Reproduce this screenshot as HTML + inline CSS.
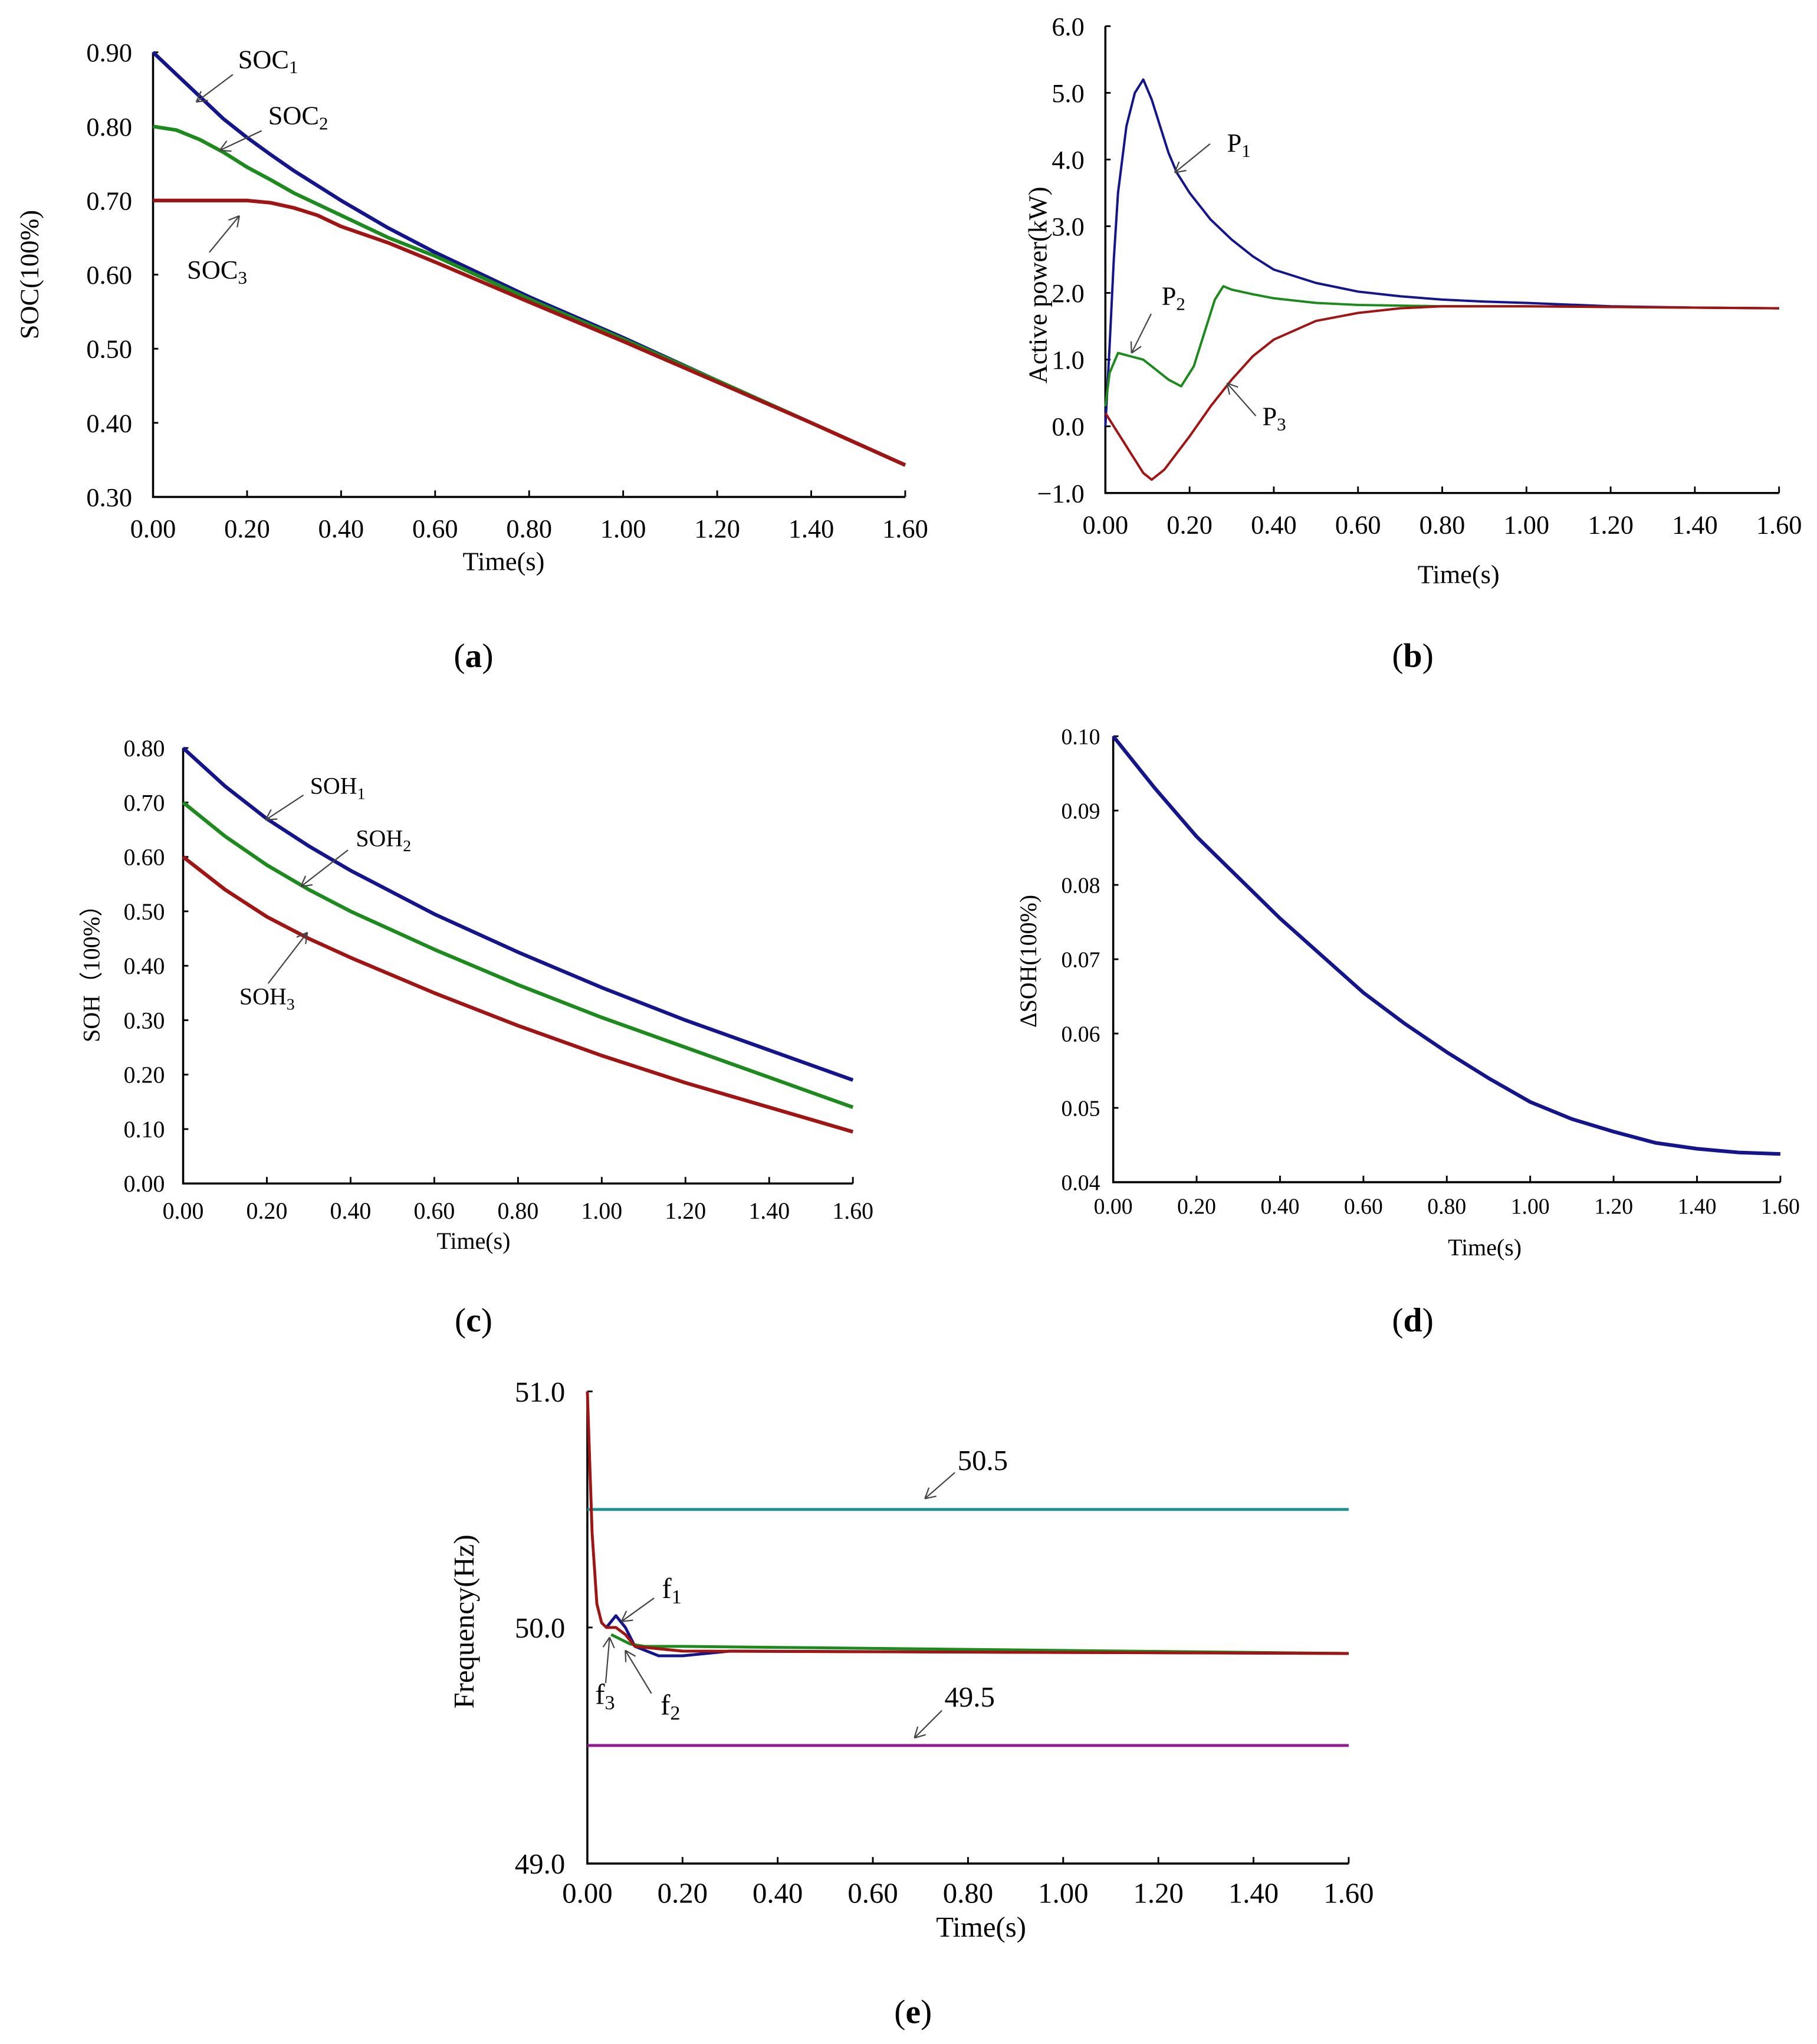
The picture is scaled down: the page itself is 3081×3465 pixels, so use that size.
<!DOCTYPE html>
<html><head><meta charset="utf-8"><style>
html,body{margin:0;padding:0;background:#fff}
svg{display:block}
text{font-family:"Liberation Serif",serif;fill:#000}
</style></head><body>
<svg id="fig" width="3081" height="3465" viewBox="0 0 1389 1563" preserveAspectRatio="none" xmlns="http://www.w3.org/2000/svg">
<rect width="1389" height="1563" fill="#fff"/>
<g id="root"></g>
</svg>
<script>
// ---- data: panel (a) SOC ----
const socT = [0,0.05,0.1,0.15,0.2,0.25,0.3,0.35,0.4,0.5,0.6,0.8,1.0,1.2,1.4,1.6];
const soc1 = [0.90,0.87,0.84,0.81,0.785,0.762,0.74,0.72,0.70,0.663,0.63,0.57,0.515,0.457,0.40,0.343];
const soc2 = [0.80,0.795,0.782,0.765,0.745,0.728,0.71,0.695,0.68,0.65,0.625,0.567,0.513,0.457,0.40,0.343];
const soc3 = [0.70,0.70,0.70,0.70,0.70,0.697,0.69,0.68,0.665,0.643,0.617,0.563,0.51,0.455,0.40,0.343];
const socYTicks = [0.30,0.40,0.50,0.60,0.70,0.80,0.90];
// ---- panel (b) active power ----
const p1T = [0,0.01,0.02,0.03,0.05,0.07,0.09,0.11,0.13,0.15,0.17,0.2,0.25,0.3,0.35,0.4,0.5,0.6,0.7,0.8,0.9,1.0,1.2,1.4,1.6];
const p1 = [0,1.2,2.5,3.5,4.5,5.0,5.2,4.9,4.5,4.1,3.8,3.5,3.1,2.8,2.55,2.35,2.15,2.02,1.95,1.9,1.87,1.85,1.8,1.78,1.77];
const p2T = [0,0.01,0.03,0.06,0.09,0.12,0.15,0.18,0.21,0.24,0.26,0.28,0.3,0.35,0.4,0.5,0.6,0.8,1.0,1.6];
const p2 = [0.3,0.8,1.1,1.05,1.0,0.85,0.7,0.6,0.9,1.5,1.9,2.1,2.05,1.98,1.92,1.85,1.82,1.8,1.8,1.77];
const p3T = [0,0.01,0.03,0.06,0.09,0.11,0.14,0.17,0.2,0.25,0.3,0.35,0.4,0.5,0.6,0.7,0.8,1.0,1.6];
const p3 = [0.2,0.1,-0.1,-0.4,-0.7,-0.8,-0.65,-0.4,-0.15,0.3,0.7,1.05,1.3,1.58,1.7,1.77,1.8,1.8,1.77];
const pYTicks = [-1,0,1,2,3,4,5,6];
// ---- panel (c) SOH ----
const sohT = [0,0.1,0.2,0.3,0.4,0.6,0.8,1.0,1.2,1.4,1.6];
const soh1 = [0.80,0.73,0.67,0.62,0.575,0.495,0.425,0.36,0.30,0.245,0.19];
const soh2 = [0.70,0.638,0.585,0.54,0.50,0.43,0.365,0.305,0.25,0.195,0.14];
const soh3 = [0.60,0.54,0.49,0.45,0.415,0.35,0.29,0.235,0.185,0.14,0.095];
const sohYTicks = [0,0.1,0.2,0.3,0.4,0.5,0.6,0.7,0.8];
// ---- panel (d) delta SOH ----
const dT = [0,0.1,0.2,0.3,0.4,0.5,0.6,0.7,0.8,0.9,1.0,1.1,1.2,1.3,1.4,1.5,1.6];
const dSoh = [0.10,0.093,0.0865,0.081,0.0755,0.0705,0.0655,0.0613,0.0575,0.054,0.0508,0.0485,0.0468,0.0453,0.0445,0.0440,0.0438];
const dYTicks = [0.04,0.05,0.06,0.07,0.08,0.09,0.10];
// ---- panel (e) frequency ----
const f3T = [0,0.005,0.01,0.02,0.03,0.04,0.06,0.08,0.1,0.2,1.6];
const f3 = [51.0,50.7,50.4,50.1,50.02,50.0,50.0,49.97,49.92,49.9,49.89];
const f1T = [0.04,0.06,0.08,0.1,0.15,0.2,0.3,1.6];
const f1 = [50.0,50.05,50.0,49.92,49.88,49.88,49.9,49.89];
const f2T = [0.05,0.07,0.09,0.12,0.2,1.6];
const f2 = [49.97,49.95,49.93,49.92,49.92,49.89];
const fLimits = [50.5,49.5];
const fYTicks = [49.0,50.0,51.0];
const xTicks = [0,0.2,0.4,0.6,0.8,1.0,1.2,1.4,1.6];

const NS='http://www.w3.org/2000/svg';
const root=document.getElementById('root');
function el(tag,attrs,parent){const e=document.createElementNS(NS,tag);for(const k in attrs)e.setAttribute(k,attrs[k]);(parent||root).appendChild(e);return e;}
function lin(d0,d1,r0,r1){return v=>r0+(v-d0)/(d1-d0)*(r1-r0);}

function panel(cfg){
  const g=el('g',{});
  
  
  const sx=lin(0,1.6,cfg.x0,cfg.x1), sy=lin(cfg.ymin,cfg.ymax,cfg.yb,cfg.yt);
  const ax=el('path',{d:`M${cfg.x0},${cfg.yt} L${cfg.x0},${cfg.yb} L${cfg.x1},${cfg.yb}`,fill:'none',stroke:'#000','stroke-width':1.6},g);
  
  
  xTicks.forEach(t=>{
    el('line',{x1:sx(t),x2:sx(t),y1:cfg.yb,y2:cfg.yb-5,stroke:'#000','stroke-width':1.3},g);
    const tx=el('text',{x:sx(t),y:cfg.yb+cfg.xlOff,'font-size':cfg.fs,'text-anchor':'middle'},g);
    tx.textContent=t.toFixed(2);
    
    
  });
  cfg.yTicks.forEach(v=>{
    el('line',{x1:cfg.x0,x2:cfg.x0+4,y1:sy(v),y2:sy(v),stroke:'#000','stroke-width':1.3},g);
    const tx=el('text',{x:cfg.x0-cfg.ylOff,y:sy(v)+cfg.fs*0.35,'font-size':cfg.fs,'text-anchor':'end'},g);
    tx.textContent=v.toFixed(cfg.yDec).replace('-','\u2212');
    
    
  });
  const xt=el('text',{x:cfg.xtX,y:cfg.xtY,'font-size':cfg.tfs,'text-anchor':'middle'},g);
  xt.textContent='Time(s)';
  
  
  const yt=el('text',{x:0,y:0,'font-size':cfg.tfs,'text-anchor':'middle',transform:`translate(${cfg.ytX},${cfg.ytY}) rotate(-90)`},g);
  yt.textContent=cfg.ytitle;
  
  
  cfg.series.forEach(s=>{
    const d=s.t.map((t,i)=>(i?'L':'M')+sx(t).toFixed(2)+','+sy(s.v[i]).toFixed(2)).join(' ');
    const p=el('path',{d:d,fill:'none',stroke:s.c,'stroke-width':s.w||2,'stroke-linejoin':'round'},g);
    
    
  });
  const pl=el('text',{x:cfg.plX,y:cfg.plY,'font-size':26,'text-anchor':'middle'},g);
  pl.innerHTML='(<tspan font-weight="bold">'+cfg.pl+'</tspan>)';
  
  
  return {g,sx,sy};
}
function ann(g,txt,sub,tx,ty,x1,y1,x2,y2,fs){
  const a=el('g',{},g);
  
  
  el('line',{x1:x1,y1:y1,x2:x2,y2:y2,stroke:'#444','stroke-width':1},a);
  const ang=Math.atan2(y1-y2,x1-x2);
  [0.5,-0.5].forEach(o=>el('line',{x1:x2,y1:y2,x2:x2+9*Math.cos(ang+o),y2:y2+9*Math.sin(ang+o),stroke:'#444','stroke-width':1},a));
  const t=el('text',{x:tx,y:ty,'font-size':fs},a);
  t.innerHTML=txt+(sub?'<tspan font-size="'+(fs*0.7)+'" dy="4">'+sub+'</tspan>':'');
}
const BL='#14148c',GR='#1d8a1d',RD='#a01414';

// (a)
const A=panel({name:'chart-a-soc',x0:117,x1:692,yt:40,yb:380,ymin:0.30,ymax:0.90,yTicks:socYTicks,yDec:2,fs:20,xlOff:31,ylOff:16,tfs:20,
  xtX:385,xtY:436,ytX:29,ytY:210,ytitle:'SOC(100%)',plX:362,plY:510,pl:'a',
  series:[{t:socT,v:soc1,c:BL,n:'soc1-line',w:2.8},{t:socT,v:soc2,c:GR,n:'soc2-line',w:2.8},{t:socT,v:soc3,c:RD,n:'soc3-line',w:2.8}]});
ann(A.g,'SOC','1',182,52,178,57,150,78,20);
ann(A.g,'SOC','2',205,95,200,100,168,115,20);
ann(A.g,'SOC','3',143,213,160,193,183,165,20);
// (b)
const B=panel({name:'chart-b-active-power',x0:845,x1:1360,yt:20,yb:377,ymin:-1,ymax:6,yTicks:pYTicks,yDec:1,fs:20,xlOff:31,ylOff:16,tfs:20,
  xtX:1115,xtY:446,ytX:800,ytY:218,ytitle:'Active power(kW)',plX:1080,plY:510,pl:'b',
  series:[{t:p1T,v:p1,c:BL,n:'p1-line',w:1.8},{t:p2T,v:p2,c:GR,n:'p2-line',w:1.8},{t:p3T,v:p3,c:RD,n:'p3-line',w:1.8}]});
ann(B.g,'P','1',938,116,925,110,898,132,20);
ann(B.g,'P','2',888,233,880,240,865,270,20);
ann(B.g,'P','3',965,325,960,318,938,293,20);
// (c)
const C=panel({name:'chart-c-soh',x0:140,x1:652,yt:572,yb:905,ymin:0,ymax:0.8,yTicks:sohYTicks,yDec:2,fs:18,xlOff:27,ylOff:14,tfs:18,
  xtX:362,xtY:955,ytX:76,ytY:740,ytitle:'SOH\uFF08100%\uFF09',plX:362,plY:1018,pl:'c',
  series:[{t:sohT,v:soh1,c:BL,n:'soh1-line',w:2.8},{t:sohT,v:soh2,c:GR,n:'soh2-line',w:2.8},{t:sohT,v:soh3,c:RD,n:'soh3-line',w:2.8}]});
ann(C.g,'SOH','1',237,607,232,608,203,627,18);
ann(C.g,'SOH','2',272,647,266,650,230,678,18);
ann(C.g,'SOH','3',183,768,205,752,235,713,18);
// (d)
panel({name:'chart-d-delta-soh',x0:851,x1:1361,yt:563,yb:904,ymin:0.04,ymax:0.10,yTicks:dYTicks,yDec:2,fs:17,xlOff:24,ylOff:10,tfs:18,
  xtX:1135,xtY:960,ytX:792,ytY:735,ytitle:'\u0394SOH(100%)',plX:1080,plY:1018,pl:'d',
  series:[{t:dT,v:dSoh,c:BL,n:'delta-soh-line',w:2.8}]});
// (e)
const E=panel({name:'chart-e-frequency',x0:449,x1:1031,yt:1064,yb:1425,ymin:49,ymax:51,yTicks:fYTicks,yDec:1,fs:22,xlOff:30,ylOff:17,tfs:22,
  xtX:750,xtY:1481,ytX:362,ytY:1240,ytitle:'Frequency(Hz)',plX:698,plY:1547,pl:'e',
  series:[{t:[0,1.6],v:[fLimits[0],fLimits[0]],c:'#1f8f8f',n:'upper-limit-line',w:2.2},
          {t:[0,1.6],v:[fLimits[1],fLimits[1]],c:'#951895',n:'lower-limit-line',w:2.2},
          {t:f1T,v:f1,c:BL,n:'f1-line',w:2.2},{t:f2T,v:f2,c:GR,n:'f2-line',w:2.2},{t:f3T,v:f3,c:RD,n:'f3-line',w:2.2}]});
ann(E.g,'50.5','',732,1124,730,1126,707,1146,22);
ann(E.g,'49.5','',722,1305,720,1308,699,1329,22);
ann(E.g,'f','1',506,1222,500,1222,475,1240,22);
ann(E.g,'f','3',455,1303,463,1287,466,1252,22);
ann(E.g,'f','2',505,1311,498,1295,478,1262,22);
</script>
</body></html>
